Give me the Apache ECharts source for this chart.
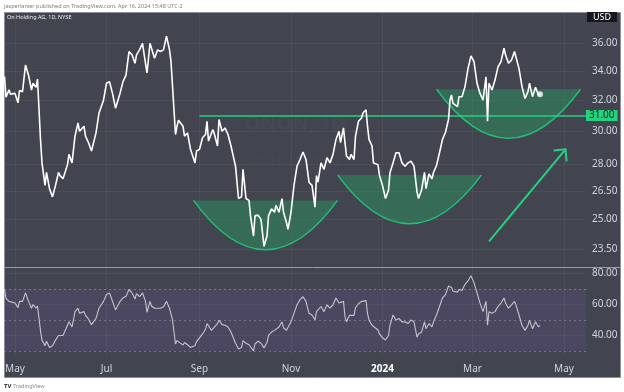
<!DOCTYPE html>
<html><head><meta charset="utf-8">
<script src="https://cdn.jsdelivr.net/npm/echarts@6/dist/echarts.min.js"></script>
<style>html,body{margin:0;padding:0;background:#fff}#c{width:624px;height:392px}</style>
</head><body><div id="c"></div>
<script>
// ---- data ----
const dates = [
'2023-04-24','2023-04-25','2023-04-27','2023-04-28','2023-05-01','2023-05-03','2023-05-04','2023-05-06','2023-05-08','2023-05-10',
'2023-05-12','2023-05-13','2023-05-15','2023-05-16','2023-05-18','2023-05-19','2023-05-21','2023-05-22','2023-05-24','2023-05-26',
'2023-05-28','2023-05-30','2023-05-31','2023-06-02','2023-06-05','2023-06-06','2023-06-08','2023-06-10','2023-06-12','2023-06-13',
'2023-06-16','2023-06-17','2023-06-19','2023-06-21','2023-06-24','2023-06-26','2023-06-29','2023-07-01','2023-07-03','2023-07-05',
'2023-07-07','2023-07-10','2023-07-12','2023-07-14','2023-07-16','2023-07-18','2023-07-20','2023-07-21','2023-07-23','2023-07-25',
'2023-07-27','2023-07-28','2023-07-30','2023-07-31','2023-08-02','2023-08-04','2023-08-06','2023-08-08','2023-08-10','2023-08-12',
'2023-08-13','2023-08-14','2023-08-16','2023-08-17','2023-08-18','2023-08-21','2023-08-22','2023-08-24','2023-08-26','2023-08-29',
'2023-08-30','2023-09-01','2023-09-03','2023-09-05','2023-09-06','2023-09-07','2023-09-09','2023-09-10','2023-09-11','2023-09-13',
'2023-09-14','2023-09-16','2023-09-18','2023-09-20','2023-09-22','2023-09-25','2023-09-27','2023-09-29','2023-09-30','2023-10-02',
'2023-10-04','2023-10-05','2023-10-07','2023-10-08','2023-10-10','2023-10-12','2023-10-14','2023-10-16','2023-10-17','2023-10-19',
'2023-10-21','2023-10-22','2023-10-24','2023-10-26','2023-10-27','2023-10-29','2023-10-30','2023-11-01','2023-11-03','2023-11-05',
'2023-11-07','2023-11-09','2023-11-11','2023-11-13','2023-11-15','2023-11-17','2023-11-18','2023-11-19','2023-11-21','2023-11-23',
'2023-11-25','2023-11-27','2023-11-29','2023-12-01','2023-12-03','2023-12-04','2023-12-06','2023-12-07','2023-12-08','2023-12-10',
'2023-12-11','2023-12-13','2023-12-14','2023-12-16','2023-12-18','2023-12-19','2023-12-21','2023-12-22','2023-12-23','2023-12-25',
'2023-12-26','2023-12-29','2023-12-30','2024-01-01','2024-01-03','2024-01-05','2024-01-06','2024-01-08','2024-01-10','2024-01-12',
'2024-01-14','2024-01-16','2024-01-18','2024-01-20','2024-01-22','2024-01-24','2024-01-25','2024-01-27','2024-01-29','2024-01-30',
'2024-02-01','2024-02-03','2024-02-04','2024-02-06','2024-02-08','2024-02-10','2024-02-12','2024-02-14','2024-02-15','2024-02-16',
'2024-02-17','2024-02-20','2024-02-21','2024-02-23','2024-02-25','2024-02-27','2024-02-29','2024-03-02','2024-03-04','2024-03-06',
'2024-03-08','2024-03-10','2024-03-11','2024-03-12','2024-03-14','2024-03-16','2024-03-18','2024-03-20','2024-03-22','2024-03-23',
'2024-03-25','2024-03-27','2024-03-29','2024-03-30','2024-04-01','2024-04-03','2024-04-05','2024-04-07','2024-04-08','2024-04-10',
'2024-04-12','2024-04-13','2024-04-14','2024-04-15'];
const close = [
33.6,32.2,32.7,32.4,32.45,31.83,32.64,32.57,34.41,33.7,
32.68,33.14,32.86,33.43,29.5,28.1,26.82,27.55,26.64,26.19,
26.82,27.55,27.37,27.19,28.0,28.6,28.1,29.7,30.53,30.0,
30.32,29.7,29.3,28.8,29.9,31.16,32.0,33.14,33.25,32.45,
31.47,32.45,33.25,33.7,35.39,35.15,34.54,35.15,35.51,36.0,
34.54,33.86,36.0,36.0,34.9,35.51,35.39,35.51,36.54,35.51,
34.66,34.54,29.8,30.32,30.7,30.32,29.7,29.9,28.9,28.1,
28.8,28.9,29.6,29.8,30.63,29.4,29.9,30.1,29.8,29.1,
30.74,30.0,30.21,29.8,29.1,27.91,26.1,26.19,27.73,26.1,
26.0,25.18,24.15,25.18,25.22,25.0,23.64,24.15,25.18,25.55,
25.37,25.73,25.37,26.1,25.37,24.83,24.49,25.37,26.82,27.91,
28.3,28.74,28.3,27.0,26.82,25.64,27.37,27.0,28.1,27.73,
28.4,28.1,28.6,29.5,30.0,29.3,30.21,29.3,28.5,28.3,
28.6,28.3,29.7,30.63,30.84,31.16,31.37,30.32,29.5,29.1,
28.1,28.0,27.37,26.82,26.1,26.55,27.55,28.1,28.7,28.7,
28.1,27.91,28.1,28.2,27.91,26.46,26.1,26.55,27.55,26.64,
27.46,27.19,27.55,27.95,28.7,29.5,29.94,30.74,32.0,32.34,
31.79,31.58,32.23,32.23,32.91,34.16,35.07,34.66,33.14,32.45,
32.0,33.59,30.63,33.14,32.68,33.36,34.28,34.66,35.63,35.15,
34.54,34.78,35.39,35.27,34.16,32.91,32.11,32.57,33.14,32.23,
32.86,32.8,32.34,32.4];
const rsi = [
70,64,62,61,61,58,62,62,67.5,62,
57.6,60,57.6,59,43,37,33.4,36.3,32.3,33.4,
37,40,39.5,40,46.6,48.8,45.5,55.4,57.6,54.3,
55.4,53,50.5,47,51,57.6,62,66.4,67.5,62,
56.5,62,64.2,65.3,69.7,67.5,63.5,67,65,67.5,
62,55,62,59,57.6,57.6,57.6,58.5,62,57.6,
56.5,50,34.5,36.7,35.6,33.8,35.5,34,32.3,33.5,
36,38.5,41,44,47.7,46.6,43.3,44.5,45.5,47.7,
49.9,47,46.6,45.5,42.2,35,31.2,32.3,36.7,35,
34,33.4,30.1,34.5,36.3,35,32,35.5,40,42.2,
43.3,44.4,45.5,48.8,45,43.3,44,48.8,54.3,59.8,
63.1,65,62,54.3,53.2,50,55.4,54.3,58.7,55.4,
59.8,57.6,59.8,64.2,61,59.8,62,52,48.8,53,
52,53,58,60.5,62,62.5,62.5,54.3,49.9,46.6,
46,43.5,41,38.5,37.1,40,46.6,53.2,50,51,
48.8,48.8,47.7,50,48.8,38.9,41,42.2,48.8,44.4,
47.7,45.5,48.8,53.2,58.7,64.2,66.4,71.9,73,71,
68.6,68,69.7,69,73,75.2,78.5,74.1,67.5,60.9,
55.4,62,46.6,55.4,54.3,55.4,58.7,60.9,64.2,61,
57.6,59.8,62,59.8,53.2,46.6,43.3,46.6,49.9,44.4,
48.8,48.2,45.5,46.6];
const priceTicks = [23.5, 25, 26.5, 28, 30, 32, 34, 36];
const priceRange = [22.65, 38.41];
const rsiTicks = [40, 60, 80];
const rsiRange = [27.4, 83.55];
const rsiLevels = [30, 50, 70];
const monthTicks = ['2023-05-01','2023-07-01','2023-09-01','2023-11-01','2024-01-01','2024-03-01','2024-05-01'];
const timeRange = ['2023-04-23 16:00', '2024-05-15 16:00'];
const monthNames = ['Jan','Feb','Mar','Apr','May','Jun','Jul','Aug','Sep','Oct','Nov','Dec'];
const levelPrice = 31;
const levelStart = '2023-09-01';
// cups: [start, end, rim price, bottom price]
const cups = [
  ['2023-08-28','2023-12-02',26.0,23.47],
  ['2023-12-02','2024-03-07',27.41,24.77],
  ['2024-02-06','2024-05-12',32.73,29.57]
];
// arrow: [tail date, tail price, head date, head price]
const arrows = [['2024-03-12',23.88,'2024-05-02',28.9]];

// ---- build ----
const t = s => echarts.time.parse(s).getTime();
const ln = Math.log;
const xMin = t(timeRange[0]), xMax = t(timeRange[1]);
const priceData = dates.map((d,i)=>[t(d), ln(close[i])]);
const rsiData = dates.map((d,i)=>[t(d), rsi[i]]);
const last = priceData[priceData.length-1];
const GREEN = '#23d27f';
const FONT = 'Noto Sans';
const gridColor = 'rgba(255,255,255,0.05)';

function renderCup(params, api){
  const l = api.coord([api.value(0), api.value(2)]);
  const r = api.coord([api.value(1), api.value(2)]);
  const b = api.coord([api.value(0), api.value(3)]);
  const cx = (l[0]+r[0])/2, cy = 2*b[1]-l[1];
  return {type:'group', children:[
    {type:'path', shape:{pathData:'M'+l[0]+' '+l[1]+' Q'+cx+' '+cy+' '+r[0]+' '+r[1]+' Z'},
      style:{fill:'rgba(34,175,104,0.36)'}},
    {type:'bezierCurve', shape:{x1:l[0],y1:l[1],x2:r[0],y2:r[1],cpx1:cx,cpy1:cy},
      style:{stroke:'#1fbf74', fill:null, lineWidth:1.5}}
  ]};
}
function renderArrow(params, api){
  const a = api.coord([api.value(0), api.value(1)]);
  const h = api.coord([api.value(2), api.value(3)]);
  const ang = Math.atan2(a[1]-h[1], a[0]-h[0]);
  const L = 12, sp = Math.PI/4;
  const p1 = [h[0]+L*Math.cos(ang+sp), h[1]+L*Math.sin(ang+sp)];
  const p2 = [h[0]+L*Math.cos(ang-sp), h[1]+L*Math.sin(ang-sp)];
  return {type:'group', children:[
    {type:'line', shape:{x1:a[0],y1:a[1],x2:h[0],y2:h[1]}, style:{stroke:GREEN, lineWidth:2}},
    {type:'polyline', shape:{points:[p1,h,p2]}, style:{stroke:GREEN, lineWidth:2, fill:null}}
  ]};
}
function monthLabel(v){
  const d = new Date(v);
  return d.getMonth()===0 ? '{y|'+d.getFullYear()+'}' : monthNames[d.getMonth()];
}

const chart = echarts.init(document.getElementById('c'), null, {renderer:'canvas'});
chart.setOption({
  animation:false,
  backgroundColor:'#ffffff',
  textStyle:{fontFamily:FONT},
  grid:[
    {left:4, right:38, top:12, height:255, outerBoundsMode:'none', containLabel:false},
    {left:4, right:38, top:268, height:87, outerBoundsMode:'none', containLabel:false}
  ],
  xAxis:[
    {type:'value', gridIndex:0, min:xMin, max:xMax,
     axisLine:{show:false}, axisLabel:{show:false},
     axisTick:{show:false, customValues:monthTicks.map(t)},
     splitLine:{show:true, lineStyle:{color:gridColor, width:1}}},
    {type:'value', gridIndex:1, min:xMin, max:xMax,
     axisLine:{show:false},
     axisTick:{show:false, customValues:monthTicks.map(t)},
     splitLine:{show:true, lineStyle:{color:gridColor, width:1}},
     axisLabel:{show:true, customValues:monthTicks.map(t), margin:9, color:'#d1d4dc', fontSize:10, fontFamily:FONT,
       hideOverlap:false, showMinLabel:true, showMaxLabel:true,
       formatter:monthLabel,
       rich:{y:{fontWeight:'bold', color:'#ffffff', fontSize:10, fontFamily:FONT}}}}
  ],
  yAxis:[
    {type:'value', gridIndex:0, position:'right', min:ln(priceRange[0]), max:ln(priceRange[1]),
     axisLine:{show:false},
     axisTick:{show:false, customValues:priceTicks.map(ln)},
     splitLine:{show:true, lineStyle:{color:gridColor}},
     axisLabel:{customValues:priceTicks.map(ln), margin:6, color:'#d1d4dc', fontSize:10, fontFamily:FONT,
       formatter:v=>Math.exp(v).toFixed(2)}},
    {type:'value', gridIndex:1, position:'right', min:rsiRange[0], max:rsiRange[1],
     axisLine:{show:false},
     axisTick:{show:false, customValues:rsiTicks},
     splitLine:{show:true, lineStyle:{color:gridColor}},
     axisLabel:{customValues:rsiTicks, margin:6, color:'#d1d4dc', fontSize:10, fontFamily:FONT,
       formatter:v=>v.toFixed(2)}}
  ],
  graphic:[
    {type:'rect', z:-100, shape:{x:4.5,y:12.5,width:616,height:365}, style:{fill:'#42454f', stroke:'#8d909a', lineWidth:1}},
    {type:'line', z:50, shape:{x1:4.5,y1:267.5,x2:620.5,y2:267.5}, style:{stroke:'#9a9da6', lineWidth:1}},
    {type:'text', z:50, x:4, y:6, style:{text:'jasperlanier published on TradingView.com, Apr 16, 2024 15:48 UTC-2', fill:'#7c7c7c', font:'5.5px "Noto Sans"', verticalAlign:'middle'}},
    {type:'text', z:50, x:7, y:17, style:{text:'On Holding AG, 1D, NYSE', fill:'#eeeeee', font:'5.5px "Noto Sans"', verticalAlign:'middle'}},
    {type:'text', z:50, x:602, y:17, style:{text:'USD', fill:'#ffffff', font:'9px "Noto Sans"', align:'center', verticalAlign:'middle',
      backgroundColor:'#17181d', padding:[1,6,0,6]}},
    {type:'text', z:1, x:295, y:124, style:{text:'ONON, 1D', fill:'rgba(255,255,255,0.025)', font:'bold 20px "Noto Sans"', align:'center', verticalAlign:'middle'}},
    {type:'text', z:1, x:295, y:161, style:{text:'On Holding AG', fill:'rgba(255,255,255,0.025)', font:'13px "Noto Sans"', align:'center', verticalAlign:'middle'}},
    {type:'text', z:50, x:4, y:386, style:{text:'TV', fill:'#222222', font:'bold 6px "Noto Sans"', verticalAlign:'middle'}},
    {type:'text', z:50, x:13, y:386, style:{text:'TradingView', fill:'#8a8a8a', font:'5.5px "Noto Sans"', verticalAlign:'middle'}}
  ],
  series:[
    {type:'custom', name:'cups', xAxisIndex:0, yAxisIndex:0, z:2, silent:true,
     renderItem:renderCup, encode:{x:[0,1], y:[2,3]},
     data:cups.map(c=>[t(c[0]), t(c[1]), ln(c[2]), ln(c[3])])},
    {type:'line', name:'price', xAxisIndex:0, yAxisIndex:0, z:5, data:priceData,
     showSymbol:false, symbol:'none', lineStyle:{color:'#ffffff', width:1.6},
     markLine:{silent:true, symbol:['none','none'], z:4,
       lineStyle:{color:GREEN, width:1.5, type:'solid'},
       label:{show:true, position:'end', distance:0, formatter:levelPrice.toFixed(2),
         backgroundColor:GREEN, color:'#10231a', fontSize:10, fontFamily:FONT, padding:[1,3,0,3]},
       data:[[{coord:[t(levelStart), ln(levelPrice)]},{coord:[xMax, ln(levelPrice)]}]]}},
    {type:'scatter', name:'last', xAxisIndex:0, yAxisIndex:0, z:6, data:[last], symbolSize:6,
     itemStyle:{color:'#ffffff'}},
    {type:'custom', name:'arrow', xAxisIndex:0, yAxisIndex:0, z:3, silent:true,
     renderItem:renderArrow, encode:{x:[0,2], y:[1,3]},
     data:arrows.map(a=>[t(a[0]), ln(a[1]), t(a[2]), ln(a[3])])},
    {type:'line', name:'rsi', xAxisIndex:1, yAxisIndex:1, z:5, data:rsiData,
     showSymbol:false, symbol:'none', lineStyle:{color:'#c4c5cc', width:1.1},
     markArea:{silent:true, itemStyle:{color:'rgba(126,87,194,0.15)'},
       data:[[{yAxis:rsiLevels[0]},{yAxis:rsiLevels[2]}]]},
     markLine:{silent:true, symbol:['none','none'], label:{show:false},
       lineStyle:{color:'rgba(200,200,210,0.35)', width:1, type:[2,3]},
       data:rsiLevels.map(v=>({yAxis:v}))}}
  ]
});
</script></body></html>
